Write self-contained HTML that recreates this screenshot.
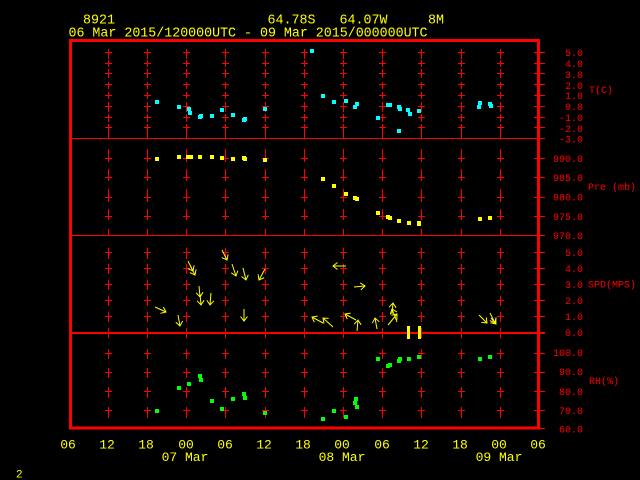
<!DOCTYPE html>
<html><head><meta charset="utf-8"><style>
html,body{margin:0;padding:0;background:#000;}
svg{display:block}
text{font-family:"Liberation Mono",monospace;}
</style></head><body>
<svg width="640" height="480" viewBox="0 0 640 480" xmlns="http://www.w3.org/2000/svg">
<rect width="640" height="480" fill="#000"/>
<defs>
<marker id="ah" markerUnits="userSpaceOnUse" markerWidth="6" markerHeight="8" viewBox="0 0 6 8" refX="5" refY="4" orient="auto"><path d="M0.5,0.5 L5,4 L0.5,7.5" fill="none" stroke="#ff0" stroke-width="1"/></marker>
<g id="cT" stroke="#f00" stroke-width="1" fill="none"><path d="M0,49V59M0,60V67M0,69V78M0,82V89M0,92V99M0,102V112M0,114V122M0,124V138M-3.5,52.5H3.5M-3.5,63.5H3.5M-3.5,73.5H3.5M-3.5,84.5H3.5M-3.5,95.5H3.5M-3.5,106.5H3.5M-3.5,117.5H3.5M-3.5,127.5H3.5"/></g>
<g id="cP" stroke="#f00" stroke-width="1" fill="none"><path d="M0,149V162M0,169V181M0,189V202M0,209V220M0,229V236M-3.5,158.5H3.5M-3.5,177.5H3.5M-3.5,197.5H3.5M-3.5,216.5H3.5"/></g>
<g id="cS" stroke="#f00" stroke-width="1" fill="none"><path d="M0,248V259M0,264V274M0,280V290M0,296V306M0,312V322M0,328V338M-3.5,252.5H3.5M-3.5,268.5H3.5M-3.5,284.5H3.5M-3.5,300.5H3.5M-3.5,316.5H3.5"/></g>
<g id="cR" stroke="#f00" stroke-width="1" fill="none"><path d="M0,349V359M0,368V378M0,387V398M0,407V418M-3.5,353.5H3.5M-3.5,372.5H3.5M-3.5,391.5H3.5M-3.5,410.5H3.5"/></g>
<g id="col"><use href="#cT"/><use href="#cP"/><use href="#cS"/><use href="#cR"/></g>
</defs>

<!-- header -->
<g fill="#ff0" font-size="13.5">
<text x="83" y="23.5" textLength="32" lengthAdjust="spacingAndGlyphs">8921</text>
<text x="267.5" y="23.5" textLength="48" lengthAdjust="spacingAndGlyphs">64.78S</text>
<text x="339.5" y="23.5" textLength="48" lengthAdjust="spacingAndGlyphs">64.07W</text>
<text x="428" y="23.5" textLength="16" lengthAdjust="spacingAndGlyphs">8M</text>
<text x="68.5" y="36.7" textLength="359" lengthAdjust="spacingAndGlyphs">06 Mar 2015/120000UTC - 09 Mar 2015/000000UTC</text>
</g>

<!-- grid columns -->
<use href="#col" x="108.5"/>
<use href="#col" x="147.5"/>
<use href="#col" x="186.5"/>
<use href="#col" x="225.5"/>
<use href="#col" x="265.5"/>
<use href="#col" x="304.5"/>
<use href="#col" x="343.5"/>
<use href="#col" x="382.5"/>
<use href="#col" x="421.5"/>
<use href="#col" x="461.5"/>
<use href="#col" x="500.5"/>

<!-- panel separators -->
<g fill="#f00">
<rect x="72" y="138" width="473" height="1"/>
<rect x="72" y="235" width="473" height="1"/>
<rect x="72" y="332" width="473" height="2"/>
</g>

<!-- right axis ticks -->
<path stroke="#f00" stroke-width="1" fill="none" d="M534,52.5H545M534,63.5H545M534,73.5H545M534,84.5H545M534,95.5H545M534,106.5H545M534,117.5H545M534,127.5H545M534,138.5H545M534,158.5H545M534,177.5H545M534,197.5H545M534,216.5H545M534,235.5H545M534,252.5H545M534,268.5H545M534,284.5H545M534,300.5H545M534,316.5H545M534,332.5H545M534,353.5H545M534,372.5H545M534,391.5H545M534,410.5H545M534,428.5H545"/>

<!-- frame -->
<rect x="70.5" y="40.5" width="468" height="387.5" fill="none" stroke="#f00" stroke-width="3"/>

<!-- right labels -->
<g fill="#f00" font-size="10" text-anchor="end">
<text x="583" y="55.8">5.0</text>
<text x="583" y="66.8">4.0</text>
<text x="583" y="77.8">3.0</text>
<text x="583" y="88.8">2.0</text>
<text x="583" y="99.2">1.0</text>
<text x="583" y="109.8">0.0</text>
<text x="583" y="120.8">-1.0</text>
<text x="583" y="131.8">-2.0</text>
<text x="583" y="142.5">-3.0</text>
<text x="583" y="161.8">990.0</text>
<text x="583" y="181.2">985.0</text>
<text x="583" y="200.5">980.0</text>
<text x="583" y="219.8">975.0</text>
<text x="583" y="239.2">970.0</text>
<text x="583" y="255.8">5.0</text>
<text x="583" y="271.8">4.0</text>
<text x="583" y="287.8">3.0</text>
<text x="583" y="303.8">2.0</text>
<text x="583" y="319.8">1.0</text>
<text x="583" y="335.8">0.0</text>
<text x="583" y="356.2">100.0</text>
<text x="583" y="375.2">90.0</text>
<text x="583" y="394.8">80.0</text>
<text x="583" y="413.8">70.0</text>
<text x="583" y="432.5">60.0</text>
</g>
<g fill="#f00" font-size="10">
<text x="589" y="92.8">T(C)</text>
<text x="588" y="190.2">Pre (mb)</text>
<text x="588" y="287.5">SPD(MPS)</text>
<text x="589" y="384.2">RH(%)</text>
</g>

<!-- bottom axis labels -->
<g fill="#ff0" font-size="13" text-anchor="middle">
<text x="68" y="448.5">06</text>
<text x="107" y="448.5">12</text>
<text x="146" y="448.5">18</text>
<text x="186" y="448.5">00</text>
<text x="225" y="448.5">06</text>
<text x="264" y="448.5">12</text>
<text x="303" y="448.5">18</text>
<text x="342" y="448.5">00</text>
<text x="382" y="448.5">06</text>
<text x="421" y="448.5">12</text>
<text x="460" y="448.5">18</text>
<text x="499" y="448.5">00</text>
<text x="538" y="448.5">06</text>
<text x="185" y="461">07 Mar</text>
<text x="342" y="461">08 Mar</text>
<text x="499" y="461">09 Mar</text>
</g>
<text x="16" y="477.5" fill="#ff0" font-size="11">2</text>

<!-- temperature points -->
<g fill="#0ff">
<rect x="155" y="100" width="4" height="4"/>
<rect x="177" y="105" width="4" height="4"/>
<rect x="187" y="107" width="4" height="4"/>
<rect x="188" y="111" width="4" height="4"/>
<rect x="198" y="115" width="4" height="4"/>
<rect x="199" y="114" width="4" height="4"/>
<rect x="210" y="114" width="4" height="4"/>
<rect x="220" y="108" width="4" height="4"/>
<rect x="231" y="113" width="4" height="4"/>
<rect x="242" y="118" width="4" height="4"/>
<rect x="243" y="117" width="4" height="4"/>
<rect x="263" y="107" width="4" height="4"/>
<rect x="310" y="49" width="4" height="4"/>
<rect x="321" y="94" width="4" height="4"/>
<rect x="332" y="100" width="4" height="4"/>
<rect x="344" y="99" width="4" height="4"/>
<rect x="353" y="105" width="4" height="4"/>
<rect x="355" y="102" width="4" height="4"/>
<rect x="376" y="116" width="4" height="4"/>
<rect x="386" y="103" width="4" height="4"/>
<rect x="388" y="103" width="4" height="4"/>
<rect x="397" y="105" width="4" height="4"/>
<rect x="398" y="107" width="4" height="4"/>
<rect x="397" y="129" width="4" height="4"/>
<rect x="406" y="108" width="4" height="4"/>
<rect x="408" y="112" width="4" height="4"/>
<rect x="417" y="109" width="4" height="4"/>
<rect x="477" y="105" width="4" height="4"/>
<rect x="478" y="101" width="4" height="4"/>
<rect x="488" y="102" width="4" height="4"/>
<rect x="489" y="104" width="4" height="4"/>
</g>

<!-- pressure points -->
<g fill="#ff0">
<rect x="155" y="157" width="4" height="4"/>
<rect x="177" y="155" width="4" height="4"/>
<rect x="186" y="155" width="4" height="4"/>
<rect x="189" y="155" width="4" height="4"/>
<rect x="198" y="155" width="4" height="4"/>
<rect x="210" y="155" width="4" height="4"/>
<rect x="220" y="156" width="4" height="4"/>
<rect x="231" y="157" width="4" height="4"/>
<rect x="242" y="156" width="4" height="4"/>
<rect x="243" y="157" width="4" height="4"/>
<rect x="263" y="158" width="4" height="4"/>
<rect x="321" y="177" width="4" height="4"/>
<rect x="332" y="184" width="4" height="4"/>
<rect x="344" y="192" width="4" height="4"/>
<rect x="353" y="196" width="4" height="4"/>
<rect x="355" y="197" width="4" height="4"/>
<rect x="376" y="211" width="4" height="4"/>
<rect x="386" y="215" width="4" height="4"/>
<rect x="388" y="216" width="4" height="4"/>
<rect x="397" y="219" width="4" height="4"/>
<rect x="407" y="221" width="4" height="4"/>
<rect x="417" y="221" width="4" height="4"/>
<rect x="417" y="222" width="4" height="4"/>
<rect x="478" y="217" width="4" height="4"/>
<rect x="488" y="216" width="4" height="4"/>
</g>

<!-- RH points -->
<g fill="#0f0">
<rect x="155" y="409" width="4" height="4"/>
<rect x="177" y="386" width="4" height="4"/>
<rect x="187" y="382" width="4" height="4"/>
<rect x="198" y="374" width="4" height="4"/>
<rect x="199" y="378" width="4" height="4"/>
<rect x="210" y="399" width="4" height="4"/>
<rect x="220" y="407" width="4" height="4"/>
<rect x="231" y="397" width="4" height="4"/>
<rect x="242" y="392" width="4" height="4"/>
<rect x="243" y="396" width="4" height="4"/>
<rect x="263" y="411" width="4" height="4"/>
<rect x="321" y="417" width="4" height="4"/>
<rect x="332" y="409" width="4" height="4"/>
<rect x="344" y="415" width="4" height="4"/>
<rect x="353" y="401" width="4" height="4"/>
<rect x="354" y="397" width="4" height="4"/>
<rect x="355" y="405" width="4" height="4"/>
<rect x="376" y="357" width="4" height="4"/>
<rect x="386" y="364" width="4" height="4"/>
<rect x="388" y="363" width="4" height="4"/>
<rect x="397" y="359" width="4" height="4"/>
<rect x="398" y="357" width="4" height="4"/>
<rect x="407" y="357" width="4" height="4"/>
<rect x="417" y="355" width="4" height="4"/>
<rect x="478" y="357" width="4" height="4"/>
<rect x="488" y="355" width="4" height="4"/>
</g>

<!-- yellow bars -->
<g fill="#ff0">
<rect x="407" y="326" width="3" height="13"/>
<rect x="418" y="326" width="3" height="13"/>
</g>

<!-- wind arrows -->
<g stroke="#ff0" stroke-width="1" fill="none" marker-end="url(#ah)">
<line x1="155" y1="307" x2="166" y2="312"/>
<line x1="178" y1="315" x2="180" y2="326"/>
<line x1="188" y1="261" x2="193" y2="271"/>
<line x1="190" y1="265" x2="195" y2="275"/>
<line x1="199" y1="286" x2="200" y2="297"/>
<line x1="200" y1="294" x2="201" y2="305"/>
<line x1="211" y1="293" x2="210" y2="305"/>
<line x1="222" y1="250" x2="227" y2="260"/>
<line x1="232" y1="264" x2="236" y2="276"/>
<line x1="243" y1="268" x2="246" y2="280"/>
<line x1="244" y1="309" x2="244" y2="321"/>
<line x1="265" y1="269" x2="259" y2="280"/>
<line x1="346" y1="266" x2="333" y2="266"/>
<line x1="354" y1="287" x2="365" y2="286"/>
<line x1="323" y1="323" x2="312" y2="317"/>
<line x1="333" y1="327" x2="323" y2="318"/>
<line x1="356" y1="320" x2="345" y2="314"/>
<line x1="357" y1="331" x2="358" y2="320"/>
<line x1="377" y1="329" x2="375" y2="318"/>
<line x1="392" y1="314" x2="393" y2="303"/>
<line x1="397" y1="322" x2="392" y2="309"/>
<line x1="388" y1="325" x2="397" y2="314"/>
<line x1="479" y1="315" x2="487" y2="323"/>
<line x1="490" y1="313" x2="495" y2="323"/>
<line x1="491" y1="318" x2="496" y2="324"/>
</g>
</svg>
</body></html>
